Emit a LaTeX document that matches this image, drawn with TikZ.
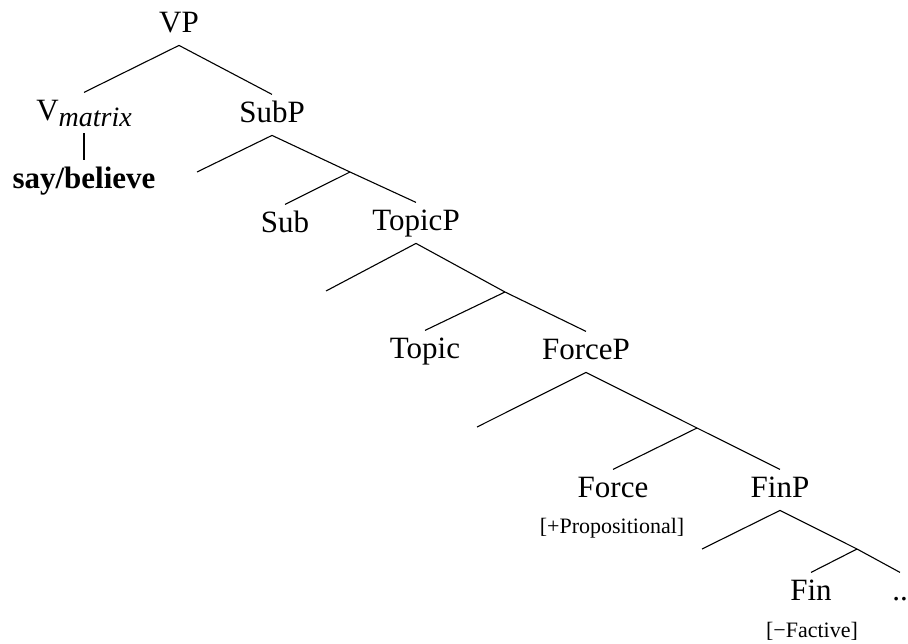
\documentclass[tikz,border=0pt]{standalone}
\usepackage{fontspec}
\setmainfont{Liberation Serif}
\begin{document}
\begin{tikzpicture}[x=0.5pt, y=-0.5pt]
  % Define styles
  \tikzstyle{cat} = [anchor=base, inner sep=0pt, text height=13.6pt, text depth=6.5pt,
                     font=\fontsize{15.5}{18}\selectfont]
  \tikzstyle{feat} = [anchor=base, inner sep=0pt, font=\fontsize{11}{13}\selectfont]
  \tikzstyle{branch} = [line width=0.55pt]
  \useasboundingbox (0,0) rectangle (908,643);

  % Nodes
  \node (vp) [cat] at (179,32) {VP};
  \node (vmat) [cat] at (84,120) {V\raisebox{-3pt}{\fontsize{14}{16}\selectfont\itshape matrix}};
  \node (say) [cat, font=\fontsize{15.5}{18}\selectfont\bfseries] at (84,188) {say/believe};
  \node (subp) [cat] at (272,122) {SubP};
  \node (sub) [cat] at (285,232) {Sub};
  \node (topicp) [cat] at (416,230) {TopicP};
  \node (topic) [cat] at (425,358) {Topic};
  \node (forcep) [cat] at (586,359) {ForceP};
  \node (force) [cat] at (613,497) {Force};
  \node (prop) [feat] at (612,533) {[+Propositional]};
  \node (finp) [cat] at (780,497) {FinP};
  \node (fin) [cat] at (811,600) {Fin};
  \node (dots) [cat] at (900,600) {..};
  \node (fact) [feat] at (812,637) {[−Factive]};

  % Specifier ends and bar points
  \coordinate (spec1) at (197,172);
  \coordinate (bar1) at (350,172);
  \coordinate (spec2) at (326,291);
  \coordinate (bar2) at (505,292);
  \coordinate (spec3) at (477,427);
  \coordinate (bar3) at (697,428);
  \coordinate (spec4) at (702,549);
  \coordinate (bar4) at (857,549);

  % Branches
  \draw [branch] (vmat.north) -- (vp.south) -- (subp.north);
  \draw [line width=1.1pt] (vmat.south) -- (say.north);
  \draw [branch] (spec1) -- (subp.south) -- (bar1) -- (topicp.north);
  \draw [branch] (bar1) -- (sub.north);
  \draw [branch] (spec2) -- (topicp.south) -- (bar2) -- (forcep.north);
  \draw [branch] (bar2) -- (topic.north);
  \draw [branch] (spec3) -- (forcep.south) -- (bar3) -- (finp.north);
  \draw [branch] (bar3) -- (force.north);
  \draw [branch] (spec4) -- (finp.south) -- (bar4) -- (dots.north);
  \draw [branch] (bar4) -- (fin.north);
\end{tikzpicture}
\end{document}
